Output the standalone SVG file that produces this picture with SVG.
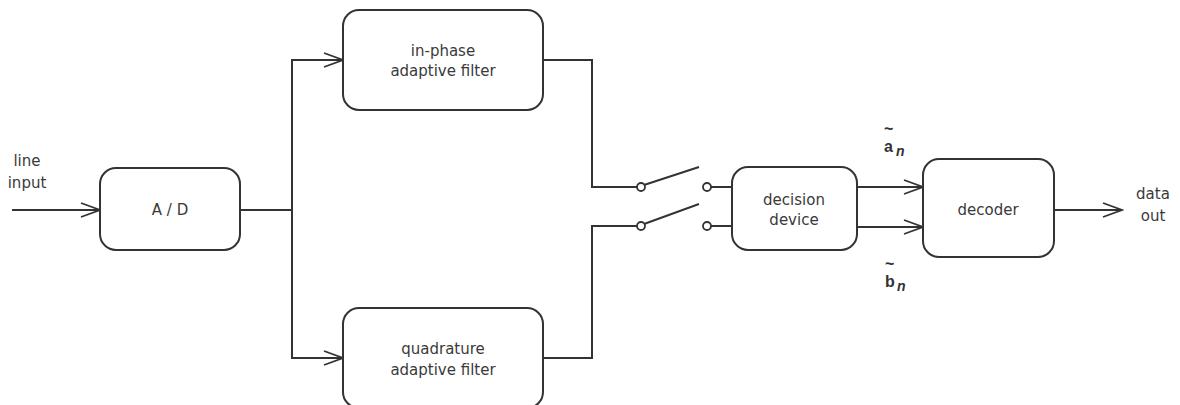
<svg xmlns="http://www.w3.org/2000/svg" width="1180" height="405" viewBox="0 0 1180 405">
<defs>
<style>
.box{fill:#fff;stroke:#333;stroke-width:2}
.ln{fill:none;stroke:#333;stroke-width:2}
.t{font-family:"DejaVu Sans",sans-serif;font-size:15px;fill:#3a3a3a;text-anchor:middle}
.lab{font-family:"Liberation Sans",Arial,sans-serif;font-weight:bold;fill:#333}
.c{fill:#fff;stroke:#333;stroke-width:1.8}
</style>
<marker id="arr" markerWidth="22" markerHeight="16" refX="20" refY="8" orient="auto" markerUnits="userSpaceOnUse">
<path d="M1,1 L20,8 L1,15" fill="none" stroke="#333" stroke-width="1.8"/>
</marker>
</defs>
<rect width="1180" height="405" fill="#fff"/>
<g id="connectors">
<line class="ln" x1="12" y1="210" x2="100" y2="210" marker-end="url(#arr)"/>
<polyline class="ln" points="240,210 292,210"/>
<polyline class="ln" points="292,210 292,60 343,60" marker-end="url(#arr)"/>
<polyline class="ln" points="292,210 292,358 343,358" marker-end="url(#arr)"/>
<polyline class="ln" points="543,60 592,60 592,187 637,187"/>
<polyline class="ln" points="543,358 592,358 592,226 637,226"/>
<line class="ln" x1="644" y1="185" x2="699" y2="167"/>
<line class="ln" x1="644" y1="224" x2="699" y2="204"/>
<line class="ln" x1="711" y1="187" x2="732" y2="187"/>
<line class="ln" x1="711" y1="226" x2="732" y2="226"/>
<circle class="c" cx="641" cy="187" r="4"/>
<circle class="c" cx="641" cy="226" r="4"/>
<circle class="c" cx="707" cy="187" r="4"/>
<circle class="c" cx="707" cy="226" r="4"/>
<line class="ln" x1="857" y1="187" x2="923" y2="187" marker-end="url(#arr)"/>
<line class="ln" x1="857" y1="227" x2="923" y2="227" marker-end="url(#arr)"/>
<line class="ln" x1="1054" y1="210" x2="1122" y2="210" marker-end="url(#arr)"/>
</g>
<g id="line-input">
<text class="t" x="27" y="166">line</text>
<text class="t" x="27" y="188">input</text>
</g>
<g id="ad">
<rect class="box" x="100" y="168" width="140" height="82" rx="16"/>
<text class="t" x="170" y="215" xml:space="preserve">A / D</text>
</g>
<g id="inphase">
<rect class="box" x="343" y="10" width="200" height="100" rx="16"/>
<text class="t" x="443" y="56">in-phase</text>
<text class="t" x="443" y="76">adaptive filter</text>
</g>
<g id="quadrature">
<rect class="box" x="343" y="308" width="200" height="100" rx="16"/>
<text class="t" x="443" y="354">quadrature</text>
<text class="t" x="443" y="375">adaptive filter</text>
</g>
<g id="decision">
<rect class="box" x="732" y="167" width="125" height="83" rx="16"/>
<text class="t" x="794" y="205">decision</text>
<text class="t" x="794" y="225">device</text>
</g>
<g id="decoder">
<rect class="box" x="923" y="159" width="131" height="98" rx="16"/>
<text class="t" x="988" y="215">decoder</text>
</g>
<g id="data-out">
<text class="t" x="1153" y="199">data</text>
<text class="t" x="1153" y="221">out</text>
</g>
<g id="labels">
<text class="lab" x="884" y="134" font-size="16">~</text>
<text class="lab" x="884" y="152" font-size="16">a</text>
<text class="lab" x="896" y="156" font-size="14" font-style="italic">n</text>
<text class="lab" x="885" y="269" font-size="16">~</text>
<text class="lab" x="885" y="287" font-size="16">b</text>
<text class="lab" x="897" y="291" font-size="14" font-style="italic">n</text>
</g>
</svg>
